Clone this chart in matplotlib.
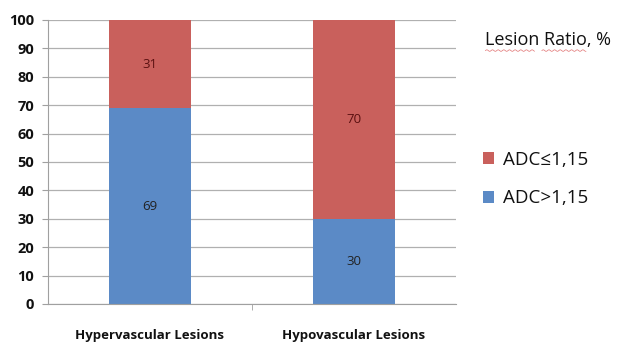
import numpy as np
import matplotlib.pyplot as plt

categories = ['Hypervascular Lesions', 'Hypovascular Lesions']
adc_high = [69, 30]   # ADC>1,15
adc_low = [31, 70]    # ADC≤1,15

blue = '#5b8ac6'
red = '#c9605c'

plt.rcParams['font.family'] = ['Open Sans', 'DejaVu Sans']

fig = plt.figure(figsize=(6.2, 3.44), dpi=100)
ax = fig.add_axes([0.0774, 0.1163, 0.6581, 0.8256])

x = np.arange(len(categories))
b1 = ax.bar(x, adc_high, width=0.4, color=blue, label='ADC>1,15', zorder=2)
b2 = ax.bar(x, adc_low, width=0.4, bottom=adc_high, color=red, label='ADC≤1,15', zorder=2)

for i in range(len(categories)):
    ax.text(x[i], adc_high[i] / 2, str(adc_high[i]), ha='center', va='center',
            fontsize=9.5, color='#222222')
    ax.text(x[i], adc_high[i] + adc_low[i] / 2, str(adc_low[i]), ha='center', va='center',
            fontsize=9.5, color='#5a1010')

ax.set_xlim(-0.5, 1.5)
ax.set_ylim(0, 100)
ax.set_yticks(range(0, 101, 10))
ax.yaxis.grid(True, color='#b0b0b0', linewidth=0.9, zorder=0)
ax.set_axisbelow(True)

for s in ['top', 'right']:
    ax.spines[s].set_visible(False)
ax.spines['left'].set_color('#a0a0a0')
ax.spines['bottom'].set_color('#a0a0a0')

ax.tick_params(axis='y', length=4, color='#a0a0a0', labelsize=10.5, pad=6,
               labelcolor='#111111')
ax.tick_params(axis='x', length=0, pad=18, labelsize=9.5, labelcolor='#111111')
for lbl in ax.get_yticklabels():
    lbl.set_fontweight('bold')
ax.set_xticks(x)
ax.set_xticklabels(categories, fontweight='bold')
# divider tick between the two categories
ax.set_xticks([0.5], minor=True)
ax.tick_params(axis='x', which='minor', length=4, color='#a0a0a0')

fig.text(0.782, 0.885, 'Lesion Ratio, %', fontsize=13, ha='left', va='center',
         color='#111111')
# spell-check squiggle under the title words
for x0, x1 in [(0.783, 0.862), (0.874, 0.945)]:
    wx = np.linspace(x0, x1, 80)
    wy = 0.853 + 0.0022 * np.sin((wx - x0) * 620 / 0.9)
    fig.add_artist(plt.Line2D(wx, wy, color='#e07070', linewidth=0.5,
                              transform=fig.transFigure))

handles = [b2, b1]
fig.legend(handles, ['ADC≤1,15', 'ADC>1,15'], loc='center left',
           bbox_to_anchor=(0.779, 0.48), frameon=False, fontsize=13.5,
           handlelength=0.6, handleheight=0.6, handletextpad=0.45, labelspacing=1.1,
           labelcolor='#111111', borderpad=0, borderaxespad=0)

fig.savefig('out.png', dpi=100)
